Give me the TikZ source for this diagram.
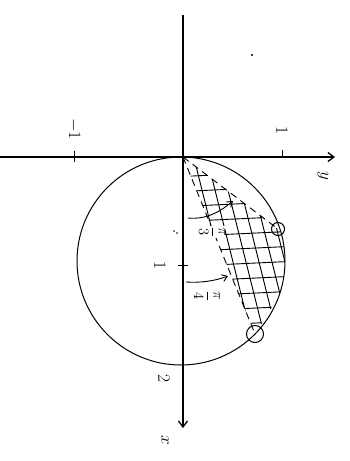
\documentclass[tikz,border=0pt]{standalone}
\usetikzlibrary{arrows.meta}
\begin{document}
\begin{tikzpicture}[x=1pt,y=-1pt,
  axis/.style={line width=1.3pt,-{Straight Barb[length=6pt,width=9pt]}},
  curve/.style={line width=1pt},
  ray/.style={line width=0.9pt,dash pattern=on 7pt off 5pt},
  hatch/.style={line width=0.9pt},
  lab/.style={rotate=-90,font=\fontsize{17}{20}\selectfont,inner sep=1pt},
  flab/.style={rotate=-90,font=\fontsize{15}{18}\selectfont,inner sep=0.5pt,fill=white},
  tick/.style={line width=1pt},
  pt/.style={draw,circle,line width=1pt,inner sep=0pt},
  marrow/.style={line width=0.9pt,-{Straight Barb[length=5pt,width=7pt]}}]
\useasboundingbox (0,0) rectangle (350,461);
% axes
\coordinate (O) at (183,157);
\coordinate (xtop) at (183,15);
\coordinate (xend) at (183,428);
\coordinate (yleft) at (0,157);
\coordinate (yend) at (335,157);
\draw[axis] (xtop) -- (xend);
\draw[axis] (yleft) -- (yend);
% ticks
\coordinate (tA) at (74,151); \coordinate (tB) at (74,162);
\coordinate (tC) at (282,150); \coordinate (tD) at (282,157);
\coordinate (tE) at (178,265); \coordinate (tF) at (188,265);
\draw[tick] (tA) -- (tB);
\draw[tick] (tC) -- (tD);
\draw[tick] (tE) -- (tF);
% circle
\coordinate (C) at (181,261);
\draw[curve] (C) circle[radius=104pt];
% hatched region
\coordinate (P1) at (278,229);
\coordinate (P2) at (255,334);
\begin{scope}
  \clip (O) -- (P1) -- (300,262) -- (P2) -- cycle;
  \clip (C) circle[radius=104pt];
  \foreach \i in {0,...,14} {
    \draw[hatch] (150,{178+\i*15}) -- (320,{170+\i*15});
    \draw[hatch] ({140+\i*13},150) -- ({190+\i*13},350);
  }
\end{scope}
% rays
\draw[ray] (O) -- (P1);
\draw[ray] (O) -- (P2);
\node[pt,minimum size=13pt] (m1) at (P1) {};
\node[pt,minimum size=17pt] (m2) at (P2) {};
% labels
\node[flab] (l3) at (212,232) {$\displaystyle\frac{\pi}{3}$};
\node[flab] (l4) at (207,296) {$\displaystyle\frac{\pi}{4}$};
\node[lab] (lm1) at (74,129) {$-1$};
\node[lab] (lp1) at (282,130) {$1$};
\node[lab] (lx1) at (160,265) {$1$};
\node[lab] (lx2) at (164,378) {$2$};
\node[lab] (lx) at (165,440) {$x$};
\node[lab] (ly) at (323,176) {$y$};
% angle arrows
\coordinate (a1s) at (188,218);
\coordinate (a1e) at (233,201);
\draw[marrow] (a1s) .. controls (208,220) and (222,210) .. (a1e);
\coordinate (a2s) at (186,282);
\coordinate (a2e) at (228,276);
\draw[marrow] (a2s) .. controls (200,283) and (215,281) .. (a2e);
% stray marks
\fill (252,55) circle[radius=1.2pt];
\fill (174,231) circle[radius=0.8pt];
\fill (177,233) circle[radius=0.8pt];
\end{tikzpicture}
\end{document}
